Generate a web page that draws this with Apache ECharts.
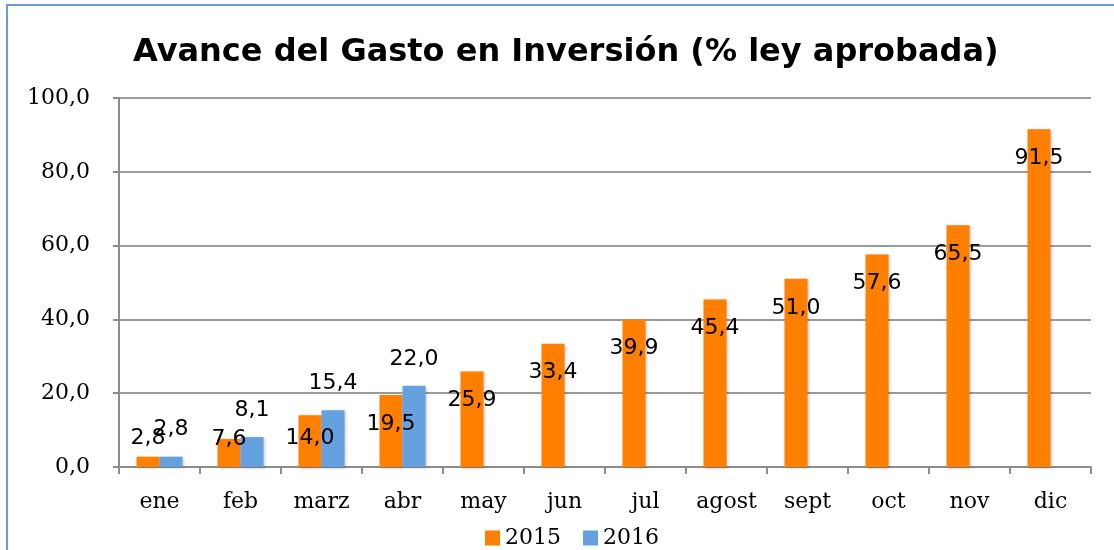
<!DOCTYPE html>
<html>
<head>
<meta charset="utf-8">
<script src="https://cdn.jsdelivr.net/npm/echarts@6/dist/echarts.min.js"></script>
<style>
  html, body { margin: 0; padding: 0; background: #fff; overflow: hidden; width: 1114px; height: 550px; }
  .linea { position: absolute; background: #6a9bd3; }
  #chart { position: absolute; left: 0; top: 0; width: 1114px; height: 550px; }
</style>
</head>
<body>
<div class="linea" style="left:6px; top:4px; width:2px; height:546px;"></div>
<div class="linea" style="left:6px; top:4px; width:1108px; height:2px;"></div>
<div id="chart"></div>
<script>
// datos
const meses = ['ene', 'feb', 'marz', 'abr', 'may', 'jun', 'jul', 'agost', 'sept', 'oct', 'nov', 'dic'];
const serie2015 = [2.8, 7.6, 14.0, 19.5, 25.9, 33.4, 39.9, 45.4, 51.0, 57.6, 65.5, 91.5];
const serie2016 = [2.8, 8.1, 15.4, 22.0, null, null, null, null, null, null, null, null];

const serif = 'DejaVu Serif';
const sans = 'DejaVu Sans';
const fmt = p => p.value == null ? '' : p.value.toFixed(1).replace('.', ',');

// ajustes de etiquetas como en el original
const ajuste2015 = {
  0: { position: 'top', distance: 7, offset: [0, 0] },
  1: { position: 'insideTop', distance: 0, offset: [0, -11] },
  2: { position: 'insideTop', distance: 18, offset: [0, -6] }
};

const data2015 = serie2015.map((v, i) => ajuste2015[i] ? { value: v, label: ajuste2015[i] } : v);

const chart = echarts.init(document.getElementById('chart'));
chart.setOption({
  animation: false,
  title: {
    text: 'Avance del Gasto en Inversión (% ley aprobada)',
    left: 128,
    top: 32,
    textStyle: { fontFamily: sans, fontWeight: 'bold', fontSize: 32, color: '#000' }
  },
  legend: {
    data: ['2015', '2016'],
    left: 480,
    top: 522,
    icon: 'rect',
    itemWidth: 15,
    itemHeight: 15,
    itemGap: 22,
    textStyle: { fontFamily: serif, fontSize: 22, color: '#000' }
  },
  grid: { left: 119, right: 23, top: 98, bottom: 83, containLabel: false },
  xAxis: {
    type: 'category',
    data: meses,
    axisLine: { lineStyle: { color: '#8c8c8c', width: 2 } },
    axisTick: { show: true, alignWithLabel: false, length: 7, lineStyle: { color: '#8c8c8c', width: 2 } },
    axisLabel: { fontFamily: serif, fontSize: 22, color: '#000', margin: 24 }
  },
  yAxis: {
    type: 'value',
    min: 0,
    max: 100,
    interval: 20,
    axisLine: { show: true, lineStyle: { color: '#8c8c8c', width: 2 } },
    axisTick: { show: true, length: 6, lineStyle: { color: '#8c8c8c', width: 2 } },
    splitLine: { lineStyle: { color: '#9a9a9a', width: 2 } },
    axisLabel: { fontFamily: serif, fontSize: 22, color: '#000', margin: 29, formatter: v => v.toFixed(1).replace('.', ',') }
  },
  series: [
    {
      name: '2015',
      type: 'bar',
      data: data2015,
      barWidth: 23,
      barGap: '0%',
      itemStyle: { color: '#ff7f00', shadowColor: 'rgba(0,0,0,0.25)', shadowBlur: 3, shadowOffsetX: 1, shadowOffsetY: 1 },
      label: { show: true, position: 'insideTop', distance: 18, formatter: fmt, fontFamily: sans, fontSize: 22, color: '#000' }
    },
    {
      name: '2016',
      type: 'bar',
      data: serie2016,
      barWidth: 23,
      itemStyle: { color: '#64a1de', shadowColor: 'rgba(0,0,0,0.25)', shadowBlur: 3, shadowOffsetX: 1, shadowOffsetY: 1 },
      label: { show: true, position: 'top', distance: 16, formatter: fmt, fontFamily: sans, fontSize: 22, color: '#000' }
    }
  ]
});
</script>
</body>
</html>
